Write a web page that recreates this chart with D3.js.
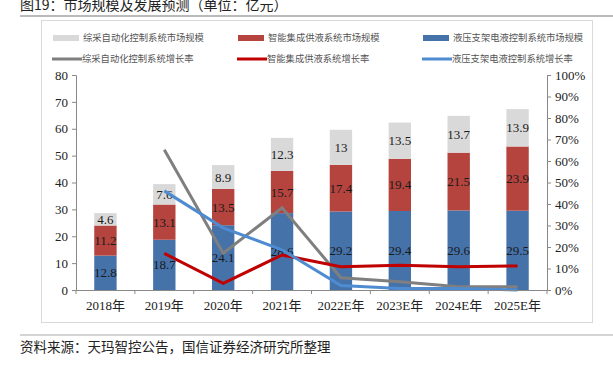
<!DOCTYPE html>
<meta charset="utf-8">
<html>
<head>
    <script src="https://d3js.org/d3.v7.min.js"></script>
    <style>
        body { margin: 0; background: #fff; }
    </style>
</head>
<body>
<script>

    // categories
    var anos = ["2018年", "2019年", "2020年", "2021年", "2022E年", "2023E年", "2024E年", "2025E年"];

    // market size (亿元)
    var hidraulico = [12.8, 18.7, 24.1, 28.6, 29.2, 29.4, 29.6, 29.5];   // 液压支架电液控制系统
    var fornecimento = [11.2, 13.1, 13.5, 15.7, 17.4, 19.4, 21.5, 23.9]; // 智能集成供液系统
    var automacao = [4.6, 7.6, 8.9, 12.3, 13, 13.5, 13.7, 13.9];        // 综采自动化控制系统

    // growth rates (%), no value for 2018
    var crescAutomacao = [null, 65.2, 17.1, 38.2, 5.7, 3.8, 1.5, 1.5];
    var crescFornecimento = [null, 17.0, 3.1, 16.3, 10.8, 11.5, 10.8, 11.2];
    var crescHidraulico = [null, 46.1, 28.9, 18.7, 2.1, 0.7, 0.7, 0];

    // tick labels
    var ticksEsq = [0, 10, 20, 30, 40, 50, 60, 70, 80];
    var ticksDir = [0, 10, 20, 30, 40, 50, 60, 70, 80, 90, 100];

    var titulo = "图19：市场规模及发展预测（单位：亿元）";
    var fonte = "资料来源：天玛智控公告，国信证券经济研究所整理";

    var largura = 613;
    var altura = 371;

    var serif = "'Liberation Serif', 'Times New Roman', 'Noto Sans CJK SC', serif";
    var cjk = "'Noto Sans CJK SC', sans-serif";

    var corAzul = "#4672aa";
    var corVermelho = "#b5443f";
    var corCinza = "#d9d9d9";

    var svg = d3.select("body").append("svg")
        .attr("width", largura)
        .attr("height", altura);

    // title + rules
    svg.append("text")
        .attr("x", 20).attr("y", 10)
        .style("font-family", cjk).style("font-size", "14px").style("fill", "#222")
        .text(titulo);
    svg.append("line").attr("x1", 20).attr("x2", 613).attr("y1", 16).attr("y2", 16)
        .attr("stroke", "#777").attr("stroke-width", 1.2);
    svg.append("line").attr("x1", 20).attr("x2", 613).attr("y1", 335).attr("y2", 335)
        .attr("stroke", "#aaa").attr("stroke-width", 1);
    svg.append("text")
        .attr("x", 20).attr("y", 352)
        .style("font-family", cjk).style("font-size", "13.5px").style("fill", "#222")
        .text(fonte);

    // frame
    svg.append("rect").attr("x", 41.5).attr("y", 20.5).attr("width", 551).attr("height", 302)
        .attr("fill", "none").attr("stroke", "#d9d9d9");

    var margem = { esq: 76, dir: 547, topo: 75, base: 290 };

    var x = d3.scaleBand().domain(anos).range([margem.esq, margem.dir]).paddingInner(0.62).paddingOuter(0.31);
    var y = d3.scaleLinear().domain([0, 80]).range([margem.base, margem.topo]);
    var y2 = d3.scaleLinear().domain([0, 100]).range([margem.base, margem.topo]);

    // stacked bars
    var linhas = anos.map(function (a, i) {
        return { ano: a, hid: hidraulico[i], forn: fornecimento[i], auto: automacao[i] };
    });
    var pilha = d3.stack().keys(["hid", "forn", "auto"])(linhas);
    var cores = { hid: corAzul, forn: corVermelho, auto: corCinza };

    var grupos = svg.selectAll("g.serie")
        .data(pilha)
        .enter().append("g")
        .attr("class", "serie")
        .attr("fill", function (d) { return cores[d.key]; });

    grupos.selectAll("rect")
        .data(function (d) { return d; })
        .enter().append("rect")
        .attr("x", function (d) { return x(d.data.ano); })
        .attr("width", x.bandwidth())
        .attr("y", function (d) { return y(d[1]); })
        .attr("height", function (d) { return y(d[0]) - y(d[1]); });

    // growth lines
    var linha = d3.line()
        .defined(function (d) { return d != null; })
        .x(function (d, i) { return x(anos[i]) + x.bandwidth() / 2; })
        .y(function (d) { return y2(d); });

    [[crescAutomacao, "#7f7f7f"], [crescFornecimento, "#c00000"], [crescHidraulico, "#4f8bd0"]]
        .forEach(function (s) {
            svg.append("path")
                .datum(s[0])
                .attr("d", linha)
                .attr("fill", "none")
                .attr("stroke", s[1])
                .attr("stroke-width", 3);
        });

    // bar labels
    grupos.selectAll("text")
        .data(function (d) { return d; })
        .enter().append("text")
        .attr("x", function (d) { return x(d.data.ano) + x.bandwidth() / 2; })
        .attr("y", function (d) { return (y(d[0]) + y(d[1])) / 2; })
        .attr("dy", "0.35em")
        .style("text-anchor", "middle")
        .style("font-family", serif)
        .style("font-size", "13px")
        .style("fill", "#1a1a1a")
        .text(function (d) { return d[1] - d[0] === 0 ? "" : +(d[1] - d[0]).toFixed(1); });

    // axes
    var eixoEsq = svg.append("g")
        .attr("transform", "translate(" + margem.esq + ",0)")
        .call(d3.axisLeft(y).tickValues(ticksEsq).tickSize(4).tickPadding(4));
    var eixoDir = svg.append("g")
        .attr("transform", "translate(" + margem.dir + ",0)")
        .call(d3.axisRight(y2).tickValues(ticksDir).tickSize(4).tickPadding(4)
            .tickFormat(function (d) { return d + "%"; }));

    var eixoX = svg.append("g")
        .attr("transform", "translate(0," + margem.base + ")")
        .call(d3.axisBottom(x).tickSize(0).tickPadding(11));

    // category boundary ticks
    eixoX.selectAll("line.sep")
        .data(d3.range(anos.length + 1))
        .enter().append("line")
        .attr("class", "sep")
        .attr("x1", function (i) { return margem.esq + i * x.step(); })
        .attr("x2", function (i) { return margem.esq + i * x.step(); })
        .attr("y1", 0).attr("y2", 4)
        .attr("stroke", "#888");

    [eixoEsq, eixoDir, eixoX].forEach(function (g) {
        g.select(".domain").attr("stroke", "#888");
        g.selectAll(".tick line").attr("stroke", "#888");
        g.selectAll("text")
            .style("font-family", serif)
            .style("font-size", "13px")
            .style("fill", "#222");
    });

    // legend
    var legenda = [
        { nome: "综采自动化控制系统市场规模", cor: corCinza, tipo: "barra", x: 53, y: 38 },
        { nome: "智能集成供液系统市场规模", cor: corVermelho, tipo: "barra", x: 238, y: 38 },
        { nome: "液压支架电液控制系统市场规模", cor: corAzul, tipo: "barra", x: 423, y: 38 },
        { nome: "综采自动化控制系统增长率", cor: "#7f7f7f", tipo: "linha", x: 52, y: 59 },
        { nome: "智能集成供液系统增长率", cor: "#c00000", tipo: "linha", x: 237, y: 59 },
        { nome: "液压支架电液控制系统增长率", cor: "#4f8bd0", tipo: "linha", x: 422, y: 59 }
    ];

    var itens = svg.selectAll("g.legenda")
        .data(legenda)
        .enter().append("g")
        .attr("class", "legenda")
        .attr("transform", function (d) { return "translate(" + d.x + "," + d.y + ")"; });

    itens.filter(function (d) { return d.tipo === "barra"; })
        .append("rect")
        .attr("x", 0).attr("y", -3).attr("width", 26).attr("height", 6)
        .attr("fill", function (d) { return d.cor; });

    itens.filter(function (d) { return d.tipo === "linha"; })
        .append("line")
        .attr("x1", 0).attr("x2", 30).attr("y1", 0).attr("y2", 0)
        .attr("stroke", function (d) { return d.cor; })
        .attr("stroke-width", 3);

    itens.append("text")
        .attr("x", function (d) { return d.tipo === "barra" ? 30 : 30; })
        .attr("dy", "0.35em")
        .style("font-family", cjk)
        .style("font-size", "9.3px")
        .style("fill", "#555")
        .text(function (d) { return d.nome; });

</script>
</body>
</html>
